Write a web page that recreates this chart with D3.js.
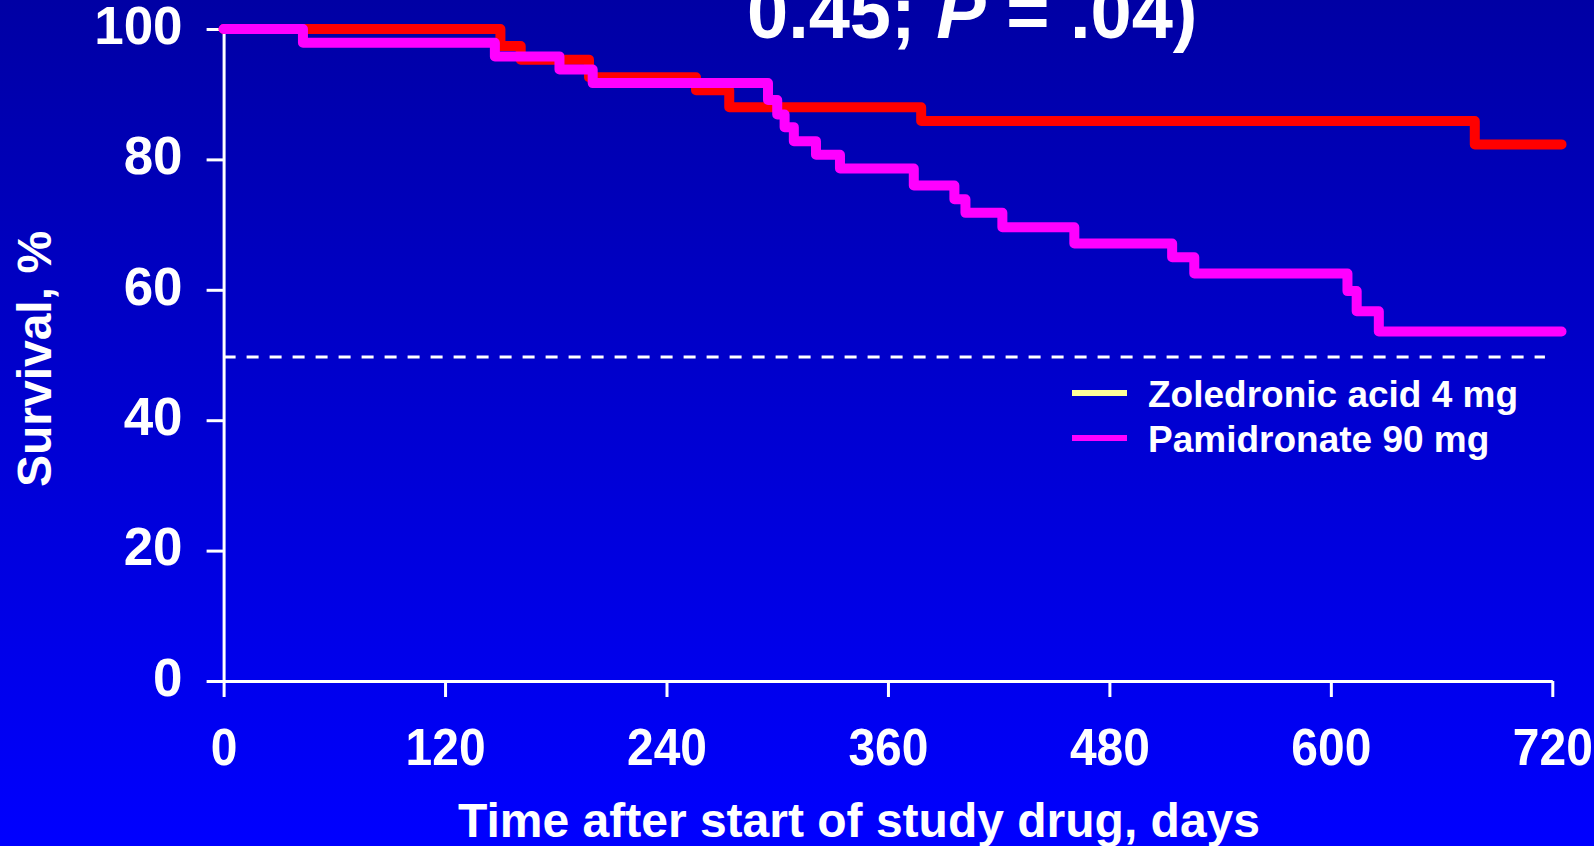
<!DOCTYPE html>
<html>
<head>
<meta charset="utf-8">
<script src="https://cdn.jsdelivr.net/npm/d3@7"></script>
<style>
  html, body { margin: 0; padding: 0; overflow: hidden; background: #0000ff; }
  svg { display: block; font-family: "Liberation Sans", Arial, sans-serif; font-weight: bold; }
</style>
</head>
<body>
<svg id="chart" width="1594" height="846"></svg>
<script>
'use strict';

// Kaplan-Meier steps: day of each drop and survival (%) after it
var zolDays     = [0, 150, 161, 198, 256, 274, 378, 678];
var zolSurvival = [100, 97.4, 95.3, 92.6, 90.6, 88.0, 85.9, 82.3];

var pamDays     = [0, 43, 147, 182, 200, 295, 300, 304, 309, 321, 334, 374, 396, 402, 422, 461, 514, 526, 609, 614, 626];
var pamSurvival = [100, 97.9, 95.8, 93.8, 91.7, 89.1, 86.9, 84.95, 82.8, 80.7, 78.6, 76.0, 73.9, 71.8, 69.6, 67.1, 65.0, 62.5, 59.8, 56.7, 53.6];

var lastDay = 725;            // curves run a little past the last tick
var medianLine = 49.7;

var xTicks = [0, 120, 240, 360, 480, 600, 720];
var yTicks = [0, 20, 40, 60, 80, 100];

var legendLabels = ['Zoledronic acid 4 mg', 'Pamidronate 90 mg'];
var legendColors = ['#ffff99', '#ff00ff'];
var curveColors  = ['#ff0000', '#ff00ff'];

var titleParts = ['0.45; ', 'P', ' = .04)'];
var xTitle = 'Time after start of study drug, days';
var yTitle = 'Survival, %';


var svg = d3.select('#chart');

// background: dark blue on top fading to bright blue
var grad = svg.append('defs').append('linearGradient')
    .attr('id', 'bg').attr('x1', 0).attr('y1', 0).attr('x2', 0).attr('y2', 1);
grad.append('stop').attr('offset', '0%').attr('stop-color', '#0000a4');
grad.append('stop').attr('offset', '100%').attr('stop-color', '#0000ff');
svg.append('rect').attr('width', 1594).attr('height', 846).attr('fill', 'url(#bg)');

var x = d3.scaleLinear().domain([0, 720]).range([223.6, 1552.3]);
var y = d3.scaleLinear().domain([0, 100]).range([681, 29]);

// title remnant (last line of a longer heading, cut by the top edge as in the slide)
var title = svg.append('text')
    .attr('x', 747).attr('y', 38)
    .attr('fill', '#fff')
    .style('font-size', '74px');
titleParts.forEach(function(t, i) {
  title.append('tspan').text(t).style('font-style', i === 1 ? 'italic' : 'normal');
});

// axes
var xAxis = svg.append('g')
    .attr('transform', 'translate(0,' + y(0) + ')')
    .call(d3.axisBottom(x).tickValues(xTicks).tickSize(16).tickSizeOuter(0));
var yAxis = svg.append('g')
    .attr('transform', 'translate(' + x(0) + ',0)')
    .call(d3.axisLeft(y).tickValues(yTicks).tickSize(17).tickSizeOuter(0));

[xAxis, yAxis].forEach(function(a) {
  a.select('.domain').attr('stroke', '#fff').attr('stroke-width', 3);
  a.selectAll('.tick line').attr('stroke', '#fff').attr('stroke-width', 3);
  a.selectAll('.tick text').attr('fill', '#fff').style('font-family', 'inherit');
});
xAxis.selectAll('.tick text')
    .attr('y', 84).attr('dy', 0)
    .attr('transform', 'scale(0.94,1)')
    .attr('x', function(d) { return 0; })
    .style('font-size', '51px');
// keep x labels centred on their ticks after the slight horizontal squeeze
xAxis.selectAll('.tick').each(function(d) {
  d3.select(this).select('text').attr('transform', 'scale(0.94,1)');
});
yAxis.selectAll('.tick text')
    .attr('x', -41).attr('dy', '0.27em')
    .style('font-size', '53px');

// axis titles
svg.append('text')
    .attr('x', 859).attr('y', 837)
    .attr('text-anchor', 'middle')
    .attr('fill', '#fff')
    .style('font-size', '48px')
    .text(xTitle);
svg.append('text')
    .attr('transform', 'translate(51,359) rotate(-90)')
    .attr('text-anchor', 'middle')
    .attr('fill', '#fff')
    .style('font-size', '48px')
    .text(yTitle);

// dashed median reference
svg.append('line')
    .attr('x1', x(0)).attr('x2', x(716))
    .attr('y1', y(medianLine)).attr('y2', y(medianLine))
    .attr('stroke', '#fff').attr('stroke-width', 3)
    .attr('stroke-dasharray', '12,11');

// survival curves
function stepPoints(days, surv) {
  var pts = days.map(function(d, i) { return [d, surv[i]]; });
  pts.push([lastDay, surv[surv.length - 1]]);
  return pts;
}
var line = d3.line()
    .x(function(d) { return x(d[0]); })
    .y(function(d) { return y(d[1]); })
    .curve(d3.curveStepAfter);

var curves = [stepPoints(zolDays, zolSurvival), stepPoints(pamDays, pamSurvival)];
svg.append('g').selectAll('path')
    .data(curves)
  .enter().append('path')
    .attr('d', line)
    .attr('fill', 'none')
    .attr('stroke', function(d, i) { return curveColors[i]; })
    .attr('stroke-width', 10)
    .attr('stroke-linejoin', 'round')
    .attr('stroke-linecap', 'round');

// legend
var legend = svg.append('g').attr('transform', 'translate(1072,393)');
var items = legend.selectAll('g')
    .data(legendLabels)
  .enter().append('g')
    .attr('transform', function(d, i) { return 'translate(0,' + (i * 45) + ')'; });
items.append('line')
    .attr('x1', 0).attr('x2', 55)
    .attr('stroke', function(d, i) { return legendColors[i]; })
    .attr('stroke-width', 6);
items.append('text')
    .attr('x', 76).attr('y', 14)
    .attr('fill', '#fff')
    .style('font-size', '37px')
    .text(function(d) { return d; });
</script>
</body>
</html>
